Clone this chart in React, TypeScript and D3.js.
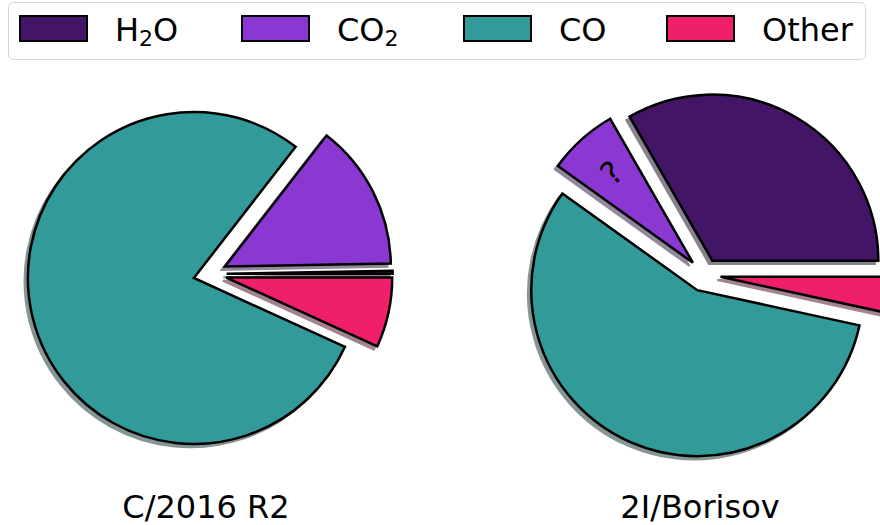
import React, { useRef, useEffect } from 'react';
import * as d3 from 'd3';

// composition of the volatiles, percent
const species = ['H2O', 'CO2', 'CO', 'Other'];
const speciesColors = ['#431567', '#8a38d1', '#339a9a', '#ef1f6b'];
const comets = ['C/2016 R2', '2I/Borisov'];
const r2Values = [0.3, 14.2, 78.7, 6.8];
const borisovValues = [33.3, 6.8, 56.5, 3.4];
const r2Labels = ['', '', '', ''];
const borisovLabels = ['', '?', '', ''];

const W = 880;
const H = 525;

const App: React.FC = () => {
  const ref = useRef<SVGSVGElement | null>(null);

  useEffect(() => {
    if (!ref.current) return;
    const svg = d3.select(ref.current);
    svg.selectAll('*').remove();
    const font = '"DejaVu Sans", sans-serif';

    // legend
    const legend = svg.append('g');
    legend
      .append('rect')
      .attr('x', 8.5)
      .attr('y', 2.5)
      .attr('width', 857)
      .attr('height', 57)
      .attr('rx', 5)
      .attr('fill', '#fff')
      .attr('stroke', '#d6d6d6')
      .attr('stroke-width', 1);
    const legendX = [20, 242, 464, 667];
    species.forEach((s, i) => {
      const g = legend.append('g').attr('transform', `translate(${legendX[i]},0)`);
      g.append('rect')
        .attr('x', 0)
        .attr('y', 16)
        .attr('width', 67)
        .attr('height', 25)
        .attr('fill', speciesColors[i])
        .attr('stroke', '#000')
        .attr('stroke-width', 2);
      const t = g
        .append('text')
        .attr('x', 95)
        .attr('y', 41)
        .attr('font-family', font)
        .attr('font-size', 32)
        .attr('fill', '#000');
      // digits become subscripts (H2O, CO2)
      let prevSub = false;
      s.split('').forEach((ch) => {
        if (/\d/.test(ch)) {
          t.append('tspan').attr('font-size', 22).attr('dy', 5).text(ch);
          prevSub = true;
        } else {
          t.append('tspan').attr('dy', prevSub ? -5 : 0).text(ch);
          prevSub = false;
        }
      });
    });

    // pies
    const R = 166;
    const explode = 0.1 * R;
    const shadowOff = 0.02 * R;
    const centers = [
      { x: 210, y: 274 },
      { x: 704, y: 275 },
    ];
    const titleX = [206, 700];
    const allValues = [r2Values, borisovValues];
    const allLabels = [r2Labels, borisovLabels];

    const pie = d3
      .pie<number>()
      .sort(null)
      .value((d) => d)
      .startAngle(Math.PI / 2)
      .endAngle(Math.PI / 2 - 2 * Math.PI);
    const arc = d3.arc<d3.PieArcDatum<number>>().innerRadius(0).outerRadius(R);

    comets.forEach((name, ci) => {
      const c = centers[ci];
      const arcs = pie(allValues[ci]);
      const g = svg.append('g').attr('transform', `translate(${c.x},${c.y})`);
      const off = (d: d3.PieArcDatum<number>) => {
        const m = (d.startAngle + d.endAngle) / 2;
        return [Math.sin(m) * explode, -Math.cos(m) * explode];
      };
      const shade = (i: number) => {
        const col = d3.rgb(speciesColors[i]);
        return d3.rgb(col.r * 0.3, col.g * 0.3, col.b * 0.3).toString();
      };
      // shadows
      g.selectAll('path.shadow')
        .data(arcs)
        .join('path')
        .attr('class', 'shadow')
        .attr('transform', (d) => {
          const [ox, oy] = off(d);
          return `translate(${ox - shadowOff},${oy + shadowOff})`;
        })
        .attr('d', arc)
        .attr('fill', (_, i) => shade(i))
        .attr('stroke', (_, i) => shade(i))
        .attr('stroke-width', 2)
        .attr('opacity', 0.5);
      // wedges
      g.selectAll('path.wedge')
        .data(arcs)
        .join('path')
        .attr('class', 'wedge')
        .attr('transform', (d) => {
          const [ox, oy] = off(d);
          return `translate(${ox},${oy})`;
        })
        .attr('d', arc)
        .attr('fill', (_, i) => speciesColors[i])
        .attr('stroke', '#000')
        .attr('stroke-width', 2.5)
        .attr('stroke-linejoin', 'miter');
      // wedge labels
      arcs.forEach((d, i) => {
        const lab = allLabels[ci][i];
        if (!lab) return;
        const m = (d.startAngle + d.endAngle) / 2;
        const [ox, oy] = off(d);
        const lx = ox + Math.sin(m) * R * 0.73;
        const ly = oy - Math.cos(m) * R * 0.73;
        let rot = 90 - (m * 180) / Math.PI;
        if (rot > 90 && rot < 270) rot -= 90;
        g.append('text')
          .attr('transform', `translate(${lx},${ly}) rotate(${-rot})`)
          .attr('text-anchor', 'middle')
          .attr('dominant-baseline', 'central')
          .attr('font-family', font)
          .attr('font-size', 32)
          .attr('fill', '#000')
          .text(lab);
      });
      svg
        .append('text')
        .attr('x', titleX[ci])
        .attr('y', 518)
        .attr('text-anchor', 'middle')
        .attr('font-family', font)
        .attr('font-size', 32)
        .attr('fill', '#000')
        .text(name);
    });
  }, []);

  return (
    <svg
      ref={ref}
      width={W}
      height={H}
      style={{ position: 'absolute', left: 0, top: 0, background: '#fff' }}
    />
  );
};

export default App;
